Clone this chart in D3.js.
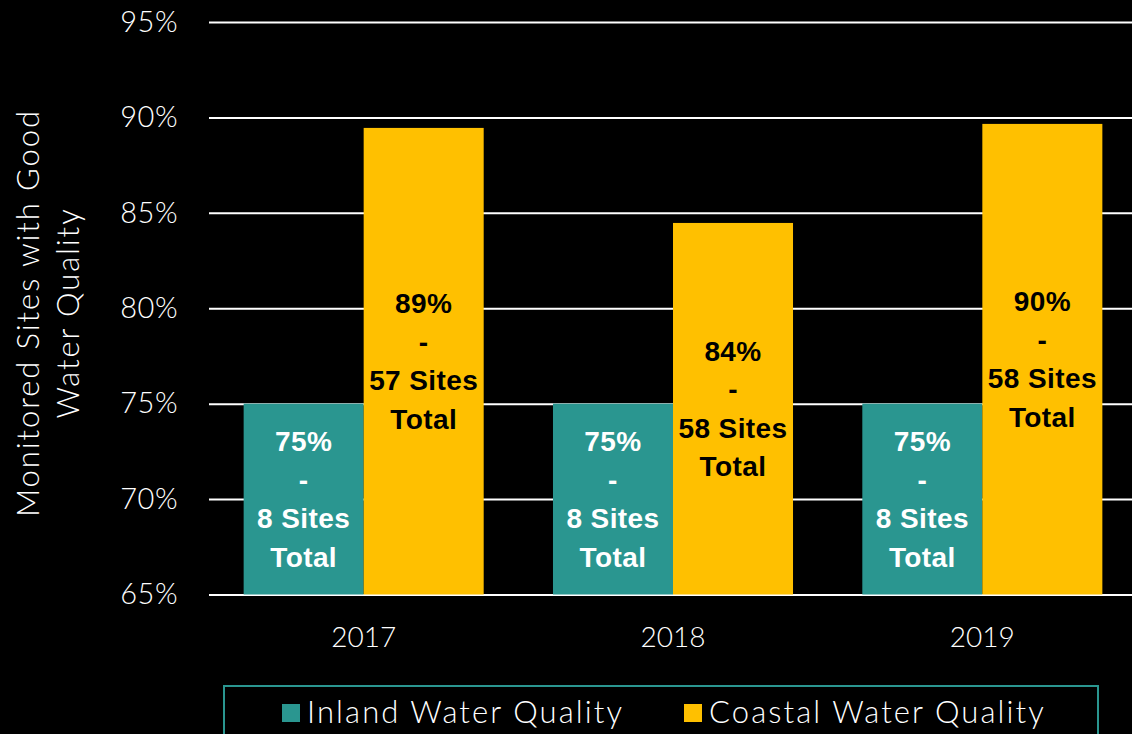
<!DOCTYPE html>
<html><head><meta charset="utf-8">
<script src="https://cdn.jsdelivr.net/npm/d3@7"></script>
<style>
html,body{margin:0;padding:0;background:#000;}
svg{display:block;}
</style></head>
<body>
<svg id="chart" width="1132" height="734"></svg>
<script>
const years = ["2017", "2018", "2019"];
const seriesNames = ["Inland Water Quality", "Coastal Water Quality"];
const inland = [75.0, 75.0, 75.0];
const coastal = [89.45, 84.47, 89.66];
const inlandLabels = [["75%", "-", "8 Sites", "Total"], ["75%", "-", "8 Sites", "Total"], ["75%", "-", "8 Sites", "Total"]];
const coastalLabels = [["89%", "-", "57 Sites", "Total"], ["84%", "-", "58 Sites", "Total"], ["90%", "-", "58 Sites", "Total"]];
const yTicks = [65, 70, 75, 80, 85, 90, 95];
const yTitle = ["Monitored Sites with Good", "Water Quality"];

const colors = {"Inland Water Quality": "#2A9690", "Coastal Water Quality": "#FFC000"};
const labelColors = {"Inland Water Quality": "#ffffff", "Coastal Water Quality": "#000000"};
const lightFont = "Lato, 'Open Sans', sans-serif";
const boldFont = "'Liberation Sans', Arial, sans-serif";

const svg = d3.select("#chart");
const y = d3.scaleLinear().domain([65, 95]).range([594.5, 22]);
const x0 = d3.scaleBand().domain(years).range([209, 1137]).paddingInner(0.224).paddingOuter(0.112);
const x1 = d3.scaleBand().domain(seriesNames).range([0, x0.bandwidth()]);

// gridlines
const yAxis = d3.axisLeft(y).tickValues(yTicks).tickSize(-(1137 - 209)).tickFormat(d => d + "%").tickPadding(31);
const gy = svg.append("g").attr("transform", "translate(209,0)").call(yAxis);
gy.select(".domain").remove();
gy.selectAll(".tick line").attr("stroke", "#ffffff").attr("stroke-width", 2);
gy.selectAll(".tick text").attr("fill", "#ffffff").style("font-family", lightFont).style("font-size", "29px").style("font-weight", 300).style("letter-spacing", "0.5px");

// y title
const yt = svg.append("text").attr("transform", "translate(48,313) rotate(-90)")
  .attr("text-anchor", "middle").attr("fill", "#fff")
  .style("font-family", lightFont).style("font-size", "31px").style("font-weight", 300).style("letter-spacing", "1.9px");
yt.selectAll("tspan").data(yTitle).join("tspan")
  .attr("x", 0).attr("dy", (d, i) => i === 0 ? "-0.3em" : "1.3em").text(d => d);

// bars
const data = years.map((yr, i) => ({
  year: yr,
  vals: [
    {s: seriesNames[0], v: inland[i], lab: inlandLabels[i]},
    {s: seriesNames[1], v: coastal[i], lab: coastalLabels[i]}
  ]
}));
const groups = svg.append("g").selectAll("g").data(data).join("g")
  .attr("transform", d => `translate(${x0(d.year)},0)`);
groups.selectAll("rect").data(d => d.vals).join("rect")
  .attr("x", d => x1(d.s)).attr("width", x1.bandwidth())
  .attr("y", d => y(d.v)).attr("height", d => y(65) - y(d.v))
  .attr("fill", d => colors[d.s]);

// labels
const lineH = 38.5;
groups.selectAll("text.lab").data(d => d.vals).join("text").attr("class", "lab")
  .attr("text-anchor", "middle")
  .attr("fill", d => labelColors[d.s])
  .style("font-family", boldFont).style("font-weight", "bold").style("font-size", "28px").style("letter-spacing", "0.4px")
  .each(function(d) {
    const cx = x1(d.s) + x1.bandwidth() / 2;
    const cy = (y(d.v) + y(65)) / 2;
    const n = d.lab.length;
    d3.select(this).selectAll("tspan").data(d.lab).join("tspan")
      .attr("x", cx)
      .attr("y", (t, i) => cy + (i - (n - 1) / 2) * lineH)
      .attr("dy", "0.35em")
      .text(t => t);
  });

// x axis labels
svg.append("g").selectAll("text").data(years).join("text")
  .attr("x", d => x0(d) + x0.bandwidth() / 2).attr("y", 637).attr("dy", "0.35em")
  .attr("text-anchor", "middle").attr("fill", "#fff")
  .style("font-family", lightFont).style("font-size", "28px").style("font-weight", 300)
  .text(d => d);

// legend
svg.append("rect").attr("x", 224).attr("y", 686).attr("width", 874).attr("height", 60)
  .attr("fill", "none").attr("stroke", "#2A9690").attr("stroke-width", 2);
const legX = [282, 684];
const leg = svg.append("g").selectAll("g").data(seriesNames).join("g")
  .attr("transform", (d, i) => `translate(${legX[i]},0)`);
leg.append("rect").attr("x", 0).attr("y", 704).attr("width", 18).attr("height", 18).attr("fill", d => colors[d]);
leg.append("text").attr("x", 25).attr("y", 712).attr("dy", "0.35em").attr("fill", "#fff")
  .style("font-family", lightFont).style("font-size", "31px").style("font-weight", 300).style("letter-spacing", "2.1px")
  .text(d => d);
</script>
</body></html>
